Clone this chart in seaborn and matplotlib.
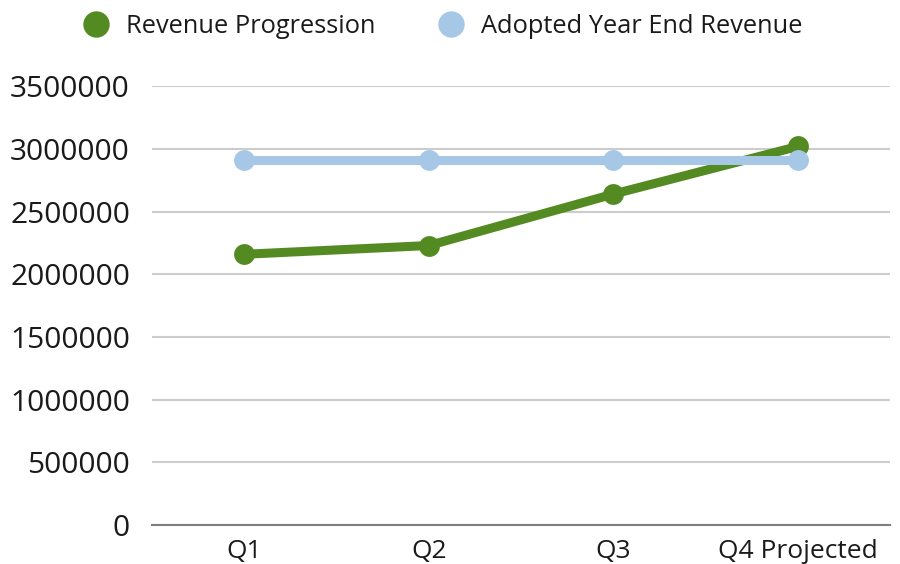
import matplotlib
matplotlib.use("Agg")
import matplotlib.pyplot as plt
import seaborn as sns
import pandas as pd
from matplotlib.lines import Line2D

quarters = ["Q1", "Q2", "Q3", "Q4 Projected"]
revenue_progression = [2160000, 2230000, 2640000, 3020000]
adopted_revenue = [2915000, 2915000, 2915000, 2915000]
series_names = ["Revenue Progression", "Adopted Year End Revenue"]
colors = ["#538b22", "#a7c7e7"]

sns.set_style("white")
plt.rcParams["font.family"] = ["Open Sans", "DejaVu Sans"]

df = pd.DataFrame({
    "quarter": quarters * 2,
    "value": revenue_progression + adopted_revenue,
    "series": [series_names[0]] * 4 + [series_names[1]] * 4,
})

fig = plt.figure(figsize=(9, 5.64), dpi=100)
ax = fig.add_axes([0.169, 0.069, 0.82, 0.778])

# green first, the adopted line sits on top
for name, color in zip(series_names, colors):
    sub = df[df["series"] == name]
    sns.lineplot(data=sub, x="quarter", y="value", ax=ax, color=color,
                 linewidth=6.5, marker="o", markersize=15,
                 markeredgewidth=0, sort=False, legend=False)

ax.set_xlim(-0.5, 3.5)
ax.set_ylim(0, 3500000)
ax.set_yticks(range(0, 3500001, 500000))
ax.set_yticklabels([str(v) for v in range(0, 3500001, 500000)])
ax.grid(axis="y", color="#cccccc", linewidth=1.5)
ax.set_axisbelow(True)
for s in ["top", "right", "left"]:
    ax.spines[s].set_visible(False)
ax.spines["bottom"].set_color("#7f7f7f")
ax.spines["bottom"].set_linewidth(1.5)
ax.tick_params(axis="both", length=0, colors="#1a1a1a")
ax.tick_params(axis="y", pad=16, labelsize=21.5)
ax.tick_params(axis="x", pad=10, labelsize=19)
ax.set_xlabel("")
ax.set_ylabel("")

handles = [Line2D([], [], linestyle="none", marker="o", markersize=19,
                  color=c, markeredgewidth=0) for c in colors]
fig.legend(handles, series_names, loc="center", bbox_to_anchor=(0.485, 0.953),
           ncol=2, frameon=False, fontsize=18.3, handletextpad=0.15,
           columnspacing=2.0, labelcolor="#1a1a1a")

fig.savefig("out.png", dpi=100)
